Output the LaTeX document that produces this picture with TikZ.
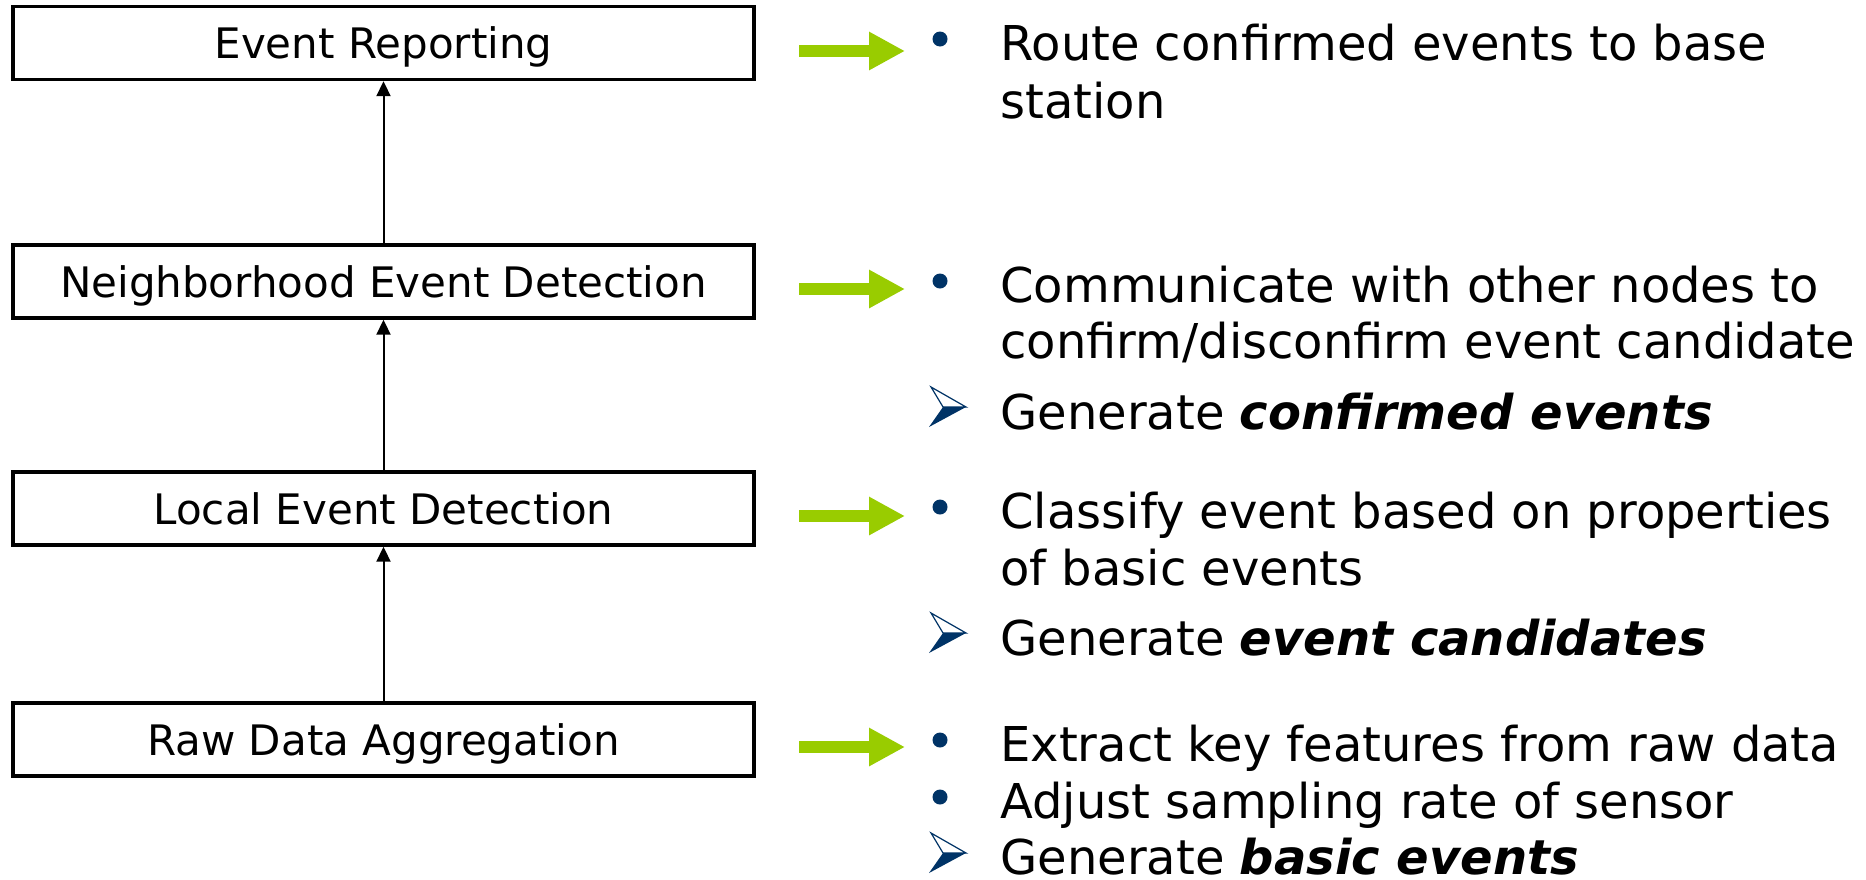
\documentclass[tikz,border=0pt]{standalone}
\usepackage{fontspec}
\setmainfont{DejaVu Sans}
\usetikzlibrary{arrows.meta}
\definecolor{leafgreen}{RGB}{153,204,0}
\definecolor{navy}{RGB}{0,51,102}
\begin{document}
\begin{tikzpicture}[x=0.5pt,y=-0.5pt,
  stagebox/.style={draw=black, line width=1.7pt, minimum width=370.5pt,
    minimum height=36.5pt, inner sep=0pt, text depth=0pt,
    font=\fontsize{21pt}{25pt}\selectfont},
  flow/.style={-{Triangle[length=7.5pt,width=7pt]}, line width=1pt},
  pointer/.style={leafgreen, line width=6pt, -{Triangle[length=18pt,width=18pt]}},
  itemtext/.style={anchor=base west, inner sep=0pt,
    font=\fontsize{24pt}{28pt}\selectfont},
  bulletdot/.style={fill=navy},
  chev/.pic={
    \fill[navy] (-5,0) -- (18,0) -- (-19,20) -- cycle;
    \draw[navy, line width=0.6pt, line join=miter] (-17,-20) -- (18,0) -- (-5,0) -- cycle;
  }
]
\fill[white] (0,0) rectangle (1866,879);
\useasboundingbox (0,0) rectangle (1866,879);

% processing stages
\node[stagebox] (er) at (383.5,43)    {Event Reporting};
\node[stagebox] (ne) at (383.5,281.5) {Neighborhood Event Detection};
\node[stagebox] (le) at (383.5,508.5) {Local Event Detection};
\node[stagebox] (rd) at (383.5,739.5) {Raw Data Aggregation};

\draw[flow] (rd) -- (le);
\draw[flow] (le) -- (ne);
\draw[flow] (ne) -- (er);

% green pointers to the descriptions
\coordinate (p1s) at (799,51);  \coordinate (p1e) at (905,51);
\coordinate (p2s) at (799,289); \coordinate (p2e) at (905,289);
\coordinate (p3s) at (799,516); \coordinate (p3e) at (905,516);
\coordinate (p4s) at (799,747); \coordinate (p4e) at (905,747);
\draw[pointer] (p1s) -- (p1e);
\draw[pointer] (p2s) -- (p2e);
\draw[pointer] (p3s) -- (p3e);
\draw[pointer] (p4s) -- (p4e);

% bullets
\fill[bulletdot] (940,39)  circle[radius=7.5];
\fill[bulletdot] (940,281) circle[radius=7.5];
\fill[bulletdot] (940,507) circle[radius=7.5];
\fill[bulletdot] (940,740) circle[radius=7.5];
\fill[bulletdot] (940,797) circle[radius=7.5];
\pic at (948,407) {chev};
\pic at (948,633) {chev};
\pic at (948,853) {chev};

% descriptions
\node[itemtext] (t1a) at (1000,60)  {Route confirmed events to base};
\node[itemtext] (t1b) at (1000,118) {station};
\node[itemtext] (t2a) at (1000,302) {Communicate with other nodes to};
\node[itemtext] (t2b) at (1000,358) {confirm/disconfirm event candidate};
\node[itemtext] (t2c) at (1000,429) {Generate \textbf{\textit{confirmed events}}};
\node[itemtext] (t3a) at (1000,528) {Classify event based on properties};
\node[itemtext] (t3b) at (1000,585) {of basic events};
\node[itemtext] (t3c) at (1000,655) {Generate \textbf{\textit{event candidates}}};
\node[itemtext] (t4a) at (1000,761) {Extract key features from raw data};
\node[itemtext] (t4b) at (1000,818) {Adjust sampling rate of sensor};
\node[itemtext] (t4c) at (1000,874) {Generate \textbf{\textit{basic events}}};
\end{tikzpicture}
\end{document}
